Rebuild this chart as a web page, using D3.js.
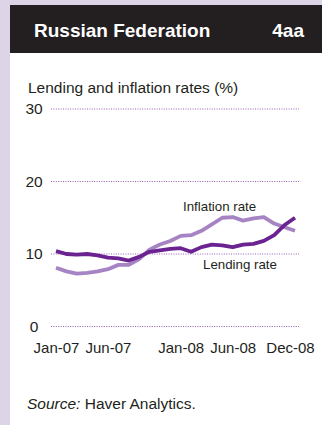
<!DOCTYPE html>
<html>
<head>
<meta charset="utf-8">
<script src="https://cdn.jsdelivr.net/npm/d3@7"></script>
<style>
  html, body { margin: 0; padding: 0; background: #ddd5e7; }
  svg { display: block; }
  text { font-family: "Liberation Sans", Arial, sans-serif; }
</style>
</head>
<body>
<svg id="chart" width="322" height="425"></svg>
<script>
// Monthly series, Jan-2007 to Dec-2008 (%)
const months = [
  "2007-01","2007-02","2007-03","2007-04","2007-05","2007-06",
  "2007-07","2007-08","2007-09","2007-10","2007-11","2007-12",
  "2008-01","2008-02","2008-03","2008-04","2008-05","2008-06",
  "2008-07","2008-08","2008-09","2008-10","2008-11","2008-12"
];
const lendingRate = [
  10.4, 10.0, 9.9, 10.0, 9.8, 9.5, 9.4, 9.1, 9.6, 10.3, 10.5, 10.7,
  10.8, 10.3, 10.95, 11.3, 11.2, 10.95, 11.3, 11.4, 11.8, 12.6, 14.0, 15.0
];
const inflationRate = [
  8.1, 7.6, 7.3, 7.4, 7.6, 7.9, 8.5, 8.5, 9.3, 10.6, 11.3, 11.8,
  12.5, 12.6, 13.2, 14.1, 15.0, 15.1, 14.6, 14.9, 15.1, 14.2, 13.7, 13.2
];
const yTicks = [0, 10, 20, 30];
const xTickIndex = [0, 5, 12, 17, 23];
const xTickLabels = ["Jan-07", "Jun-07", "Jan-08", "Jun-08", "Dec-08"];

const svg = d3.select("#chart");
const W = 322, H = 425;

// Panel: lavender frame, dark header, white body
svg.append("rect").attr("x", 0).attr("y", 0).attr("width", W).attr("height", H).attr("fill", "#ddd5e7");
svg.append("rect").attr("x", 10).attr("y", 53).attr("width", W - 10).attr("height", H - 53).attr("fill", "#ffffff");
svg.append("rect").attr("x", 10).attr("y", 5).attr("width", W - 10).attr("height", 48).attr("fill", "#231f20");

svg.append("text").attr("x", 34).attr("y", 37)
  .attr("fill", "#ffffff").attr("font-size", 19).attr("font-weight", "bold")
  .text("Russian Federation");
svg.append("text").attr("x", 304).attr("y", 37).attr("text-anchor", "end")
  .attr("fill", "#ffffff").attr("font-size", 19).attr("font-weight", "bold")
  .text("4aa");

svg.append("text").attr("x", 28).attr("y", 93)
  .attr("fill", "#231f20").attr("font-size", 15.5)
  .text("Lending and inflation rates (%)");

// Scales
const x = d3.scalePoint().domain(d3.range(months.length)).range([56, 295]);
const y = d3.scaleLinear().domain([0, 30]).range([326.5, 109]);

// Gridlines
const grid = svg.append("g");
grid.selectAll("line").data(yTicks).join("line")
  .attr("x1", 51).attr("x2", 299)
  .attr("y1", d => y(d)).attr("y2", d => y(d))
  .attr("stroke", "#9a5cb8").attr("stroke-width", 1)
  .attr("stroke-dasharray", "1,1.4");

// Y axis labels
const yAxis = svg.append("g").attr("transform", "translate(43,0)")
  .call(d3.axisLeft(y).tickValues(yTicks).tickSize(0).tickPadding(0));
yAxis.select(".domain").remove();
yAxis.selectAll("text")
  .attr("font-family", "'Liberation Sans', Arial, sans-serif")
  .attr("font-size", 15.5).attr("fill", "#231f20")
  .attr("text-anchor", "middle").attr("x", -9);

// X axis labels
const xAxis = svg.append("g").attr("transform", "translate(0,342)")
  .call(d3.axisBottom(x).tickValues(xTickIndex).tickSize(0).tickPadding(0)
    .tickFormat((d, i) => xTickLabels[i]));
xAxis.select(".domain").remove();
xAxis.selectAll("text")
  .attr("font-family", "'Liberation Sans', Arial, sans-serif")
  .attr("font-size", 15).attr("fill", "#231f20")
  .attr("dx", d => d === 23 ? -5 : 0);

// Lines
const line = d3.line().x((d, i) => x(i)).y(d => y(d)).curve(d3.curveLinear);
svg.append("path").datum(inflationRate)
  .attr("d", line).attr("fill", "none")
  .attr("stroke", "#a684c3").attr("stroke-width", 3.8)
  .attr("stroke-linejoin", "round");
svg.append("path").datum(lendingRate)
  .attr("d", line).attr("fill", "none")
  .attr("stroke", "#6a2390").attr("stroke-width", 3.8)
  .attr("stroke-linejoin", "round");

// Series labels
svg.append("text").attr("x", 183).attr("y", 211)
  .attr("fill", "#231f20").attr("font-size", 13.3).text("Inflation rate");
svg.append("text").attr("x", 203).attr("y", 269)
  .attr("fill", "#231f20").attr("font-size", 13.3).text("Lending rate");

// Source note
const src = svg.append("text").attr("x", 27).attr("y", 409)
  .attr("fill", "#231f20").attr("font-size", 15.5);
src.append("tspan").attr("font-style", "italic").text("Source:");
src.append("tspan").text(" Haver Analytics.");
</script>
</body>
</html>
